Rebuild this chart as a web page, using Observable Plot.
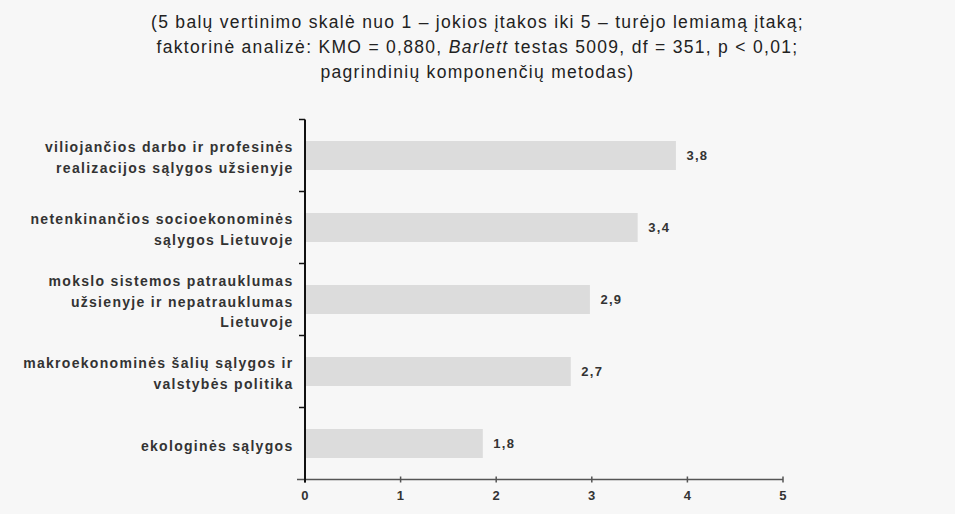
<!DOCTYPE html>
<html><head><meta charset="utf-8">
<script src="https://cdn.jsdelivr.net/npm/d3@7"></script>
<script src="https://cdn.jsdelivr.net/npm/@observablehq/plot@0.6"></script>
<style>
body{margin:0;background:#f7f7f7;font-family:"Liberation Sans",Arial,sans-serif;}
#title{height:95px;box-sizing:border-box;padding-top:10px;text-align:center;font-size:17.5px;line-height:25px;color:#222;letter-spacing:1.3px;}
#chart svg{display:block;}
#chart svg text{letter-spacing:1.3px;}
</style></head>
<body>
<div id="title">(5 balų vertinimo skalė nuo 1 – jokios įtakos iki 5 – turėjo lemiamą įtaką;<br>faktorinė analizė: KMO = 0,880, <i>Barlett</i> testas 5009, df = 351, p &lt; 0,01;<br>pagrindinių komponenčių metodas)</div>
<div id="chart"></div>
<script>
const categories = [
  "viliojančios darbo ir profesinės\nrealizacijos sąlygos užsienyje",
  "netenkinančios socioekonominės\nsąlygos Lietuvoje",
  "mokslo sistemos patrauklumas\nužsienyje ir nepatrauklumas\nLietuvoje",
  "makroekonominės šalių sąlygos ir\nvalstybės politika",
  "ekologinės sąlygos"
];
const values = [3.88, 3.48, 2.98, 2.78, 1.86];
const valueLabels = ["3,8", "3,4", "2,9", "2,7", "1,8"];
const xTicks = [0, 1, 2, 3, 4, 5];

const data = categories.map((c, i) => ({cat: c, v: values[i], lab: valueLabels[i]}));

const chart = Plot.plot({
  width: 955,
  height: 419,
  marginLeft: 305,
  marginRight: 172,
  marginTop: 22,
  marginBottom: 33,
  style: {background: "#f7f7f7", fontFamily: "'Liberation Sans', Arial, sans-serif", color: "#222"},
  x: {domain: [0, 5], ticks: xTicks, label: null},
  y: {domain: categories, paddingInner: 0.6, paddingOuter: 0.3, align: 0.5, label: null},
  marks: [
    Plot.barX(data, {y: "cat", x: "v", fill: "#dcdcdc"}),
    Plot.text(data, {y: "cat", x: "v", text: "lab", dx: 10, textAnchor: "start", fontSize: 13, fontWeight: "bold", fill: "#333"}),
    Plot.axisY({tickSize: 0, tickPadding: 12, fontSize: 14, fontWeight: "bold", fill: "#333", lineHeight: 1.45, label: null}),
    Plot.axisX({ticks: xTicks, tickSize: 0, tickPadding: 9, fontSize: 13, fontWeight: "bold", fill: "#333", tickFormat: d => String(d), label: null})
  ]
});

document.getElementById("chart").appendChild(chart);

// axis lines and ticks derived from scales
const svg = d3.select(chart);
const xs = chart.scale("x"), ys = chart.scale("y");
const x0 = xs.apply(0), x5 = xs.apply(5);
const step = ys.step, bw = ys.bandwidth;
const bounds = categories.map(c => ys.apply(c) - (step - bw) / 2);
const yTop = bounds[0], yBot = bounds[bounds.length - 1] + step;
const g = svg.append("g");
g.append("line").attr("x1", x0 - 8).attr("x2", x5).attr("y1", yBot).attr("y2", yBot).attr("stroke", "#555").attr("stroke-width", 1.5);
xTicks.forEach(t => {
  const xp = xs.apply(t);
  g.append("line").attr("x1", xp).attr("x2", xp).attr("y1", yBot - 3).attr("y2", yBot + 3).attr("stroke", "#555").attr("stroke-width", 1.5);
});
g.append("line").attr("x1", x0).attr("x2", x0).attr("y1", yTop).attr("y2", yBot + 3).attr("stroke", "#111").attr("stroke-width", 2);
bounds.forEach(b => {
  g.append("line").attr("x1", x0 - 6).attr("x2", x0).attr("y1", b).attr("y2", b).attr("stroke", "#111").attr("stroke-width", 1.5);
});
</script>
</body></html>
